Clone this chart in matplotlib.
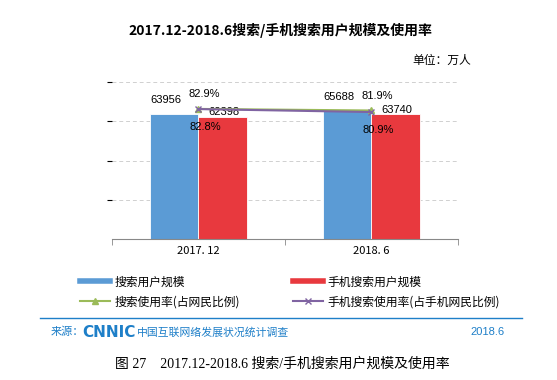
import matplotlib
matplotlib.use("Agg")
import matplotlib.pyplot as plt
from matplotlib.lines import Line2D

plt.rcParams['font.family'] = ['Noto Sans CJK SC', 'DejaVu Sans']

# data
periods = ['2017. 12', '2018. 6']
search_users = [63956, 65688]
mobile_search_users = [62398, 63740]
search_rate = [82.9, 81.9]
mobile_search_rate = [82.8, 80.9]

blue = '#5B9BD5'
red = '#E8393E'
green = '#9BBB59'
purple = '#8064A2'
src_blue = '#1E7FC8'
num_font = ['Liberation Sans', 'DejaVu Sans']


def main():
    fig = plt.figure(figsize=(5.57, 3.8), dpi=100)

    ax = fig.add_axes([0.201, 0.371, 0.621, 0.413])
    x = [0, 1]
    w = 0.28
    ax.bar([i - w / 2 for i in x], search_users, w, color=blue, edgecolor='white', linewidth=0.6, zorder=2)
    ax.bar([i + w / 2 for i in x], mobile_search_users, w, color=red, edgecolor='white', linewidth=0.6, zorder=2)
    ax.set_xlim(-0.5, 1.5)
    ax.set_ylim(0, 80000)
    ax.set_yticks([20000, 40000, 60000, 80000])
    ax.yaxis.grid(True, color='#d0d0d0', linestyle=(0, (4, 3)), linewidth=0.7)
    ax.set_axisbelow(True)
    ax.tick_params(axis='y', left=False, labelleft=False)
    for s in ['top', 'right', 'left']:
        ax.spines[s].set_visible(False)
    ax.spines['bottom'].set_color('#888888')
    ax.set_xticks([-0.5, 0.5, 1.5], minor=True)
    ax.tick_params(axis='x', which='minor', length=4, color='#888888')
    ax.set_xticks(x)
    ax.set_xticklabels(periods, fontsize=8)
    ax.tick_params(axis='x', which='major', length=0, pad=5)

    for i in x:
        ax.annotate(str(search_users[i]), (i - w / 2, search_users[i]), xytext=(-6, 9.5),
                    textcoords='offset points', ha='center', va='center', fontsize=8, family=num_font)
        ax.annotate(str(mobile_search_users[i]), (i + w / 2, mobile_search_users[i]), xytext=(1, 3),
                    textcoords='offset points', ha='center', va='center', fontsize=8, family=num_font)

    ax2 = ax.twinx()
    ax2.set_ylim(0, 100)
    ax2.axis('off')
    ax2.plot(x, search_rate, color=green, marker='^', markersize=4, linewidth=1.5, zorder=3)
    ax2.plot(x, mobile_search_rate, color=purple, marker='x', markersize=4, linewidth=1.5, zorder=4)
    for i in x:
        ax2.annotate('%.1f%%' % search_rate[i], (i, search_rate[i]), xytext=(4, 10.5),
                     textcoords='offset points', ha='center', va='center', fontsize=8, family=num_font)
        ax2.annotate('%.1f%%' % mobile_search_rate[i], (i, mobile_search_rate[i]), xytext=(5, -13),
                     textcoords='offset points', ha='center', va='center', fontsize=8, family=num_font)

    fig.text(0.503, 0.921, '2017.12-2018.6搜索/手机搜索用户规模及使用率', ha='center', va='center',
             fontsize=10, fontweight='bold')
    fig.text(0.845, 0.842, '单位：万人', ha='right', va='center', fontsize=8.5)

    handles = [Line2D([], [], color=blue, linewidth=4),
               Line2D([], [], color=green, marker='^', markersize=4, linewidth=1.5),
               Line2D([], [], color=red, linewidth=4),
               Line2D([], [], color=purple, marker='x', markersize=4, linewidth=1.5)]
    labels = ['搜索用户规模', '搜索使用率(占网民比例)', '手机搜索用户规模', '手机搜索使用率(占手机网民比例)']
    fig.legend(handles, labels,
               ncol=2, loc='center left', bbox_to_anchor=(0.125, 0.232), frameon=False,
               fontsize=8.5, handlelength=2.5, columnspacing=4.5, labelspacing=0.55,
               handletextpad=0.4)

    fig.add_artist(Line2D([0.072, 0.938], [0.163, 0.163], color=src_blue, linewidth=1))
    fig.text(0.09, 0.126, '来源：', color=src_blue, fontsize=8, ha='left', va='center')
    fig.text(0.147, 0.126, 'CNNIC', color=src_blue, fontsize=11, fontweight='bold', ha='left', va='center',
             family='DejaVu Sans')
    fig.text(0.246, 0.126, '中国互联网络发展状况统计调查', color=src_blue, fontsize=7.8, ha='left', va='center')
    fig.text(0.905, 0.126, '2018.6', color=src_blue, fontsize=8, ha='right', va='center',
             family='Liberation Sans')

    fig.text(0.507, 0.042, '图 27    2017.12-2018.6 搜索/手机搜索用户规模及使用率', ha='center', va='center',
             fontsize=10, family=['Liberation Serif', 'Noto Sans CJK SC'])

    fig.savefig('out.png', dpi=100)


if __name__ == "__main__":
    main()
